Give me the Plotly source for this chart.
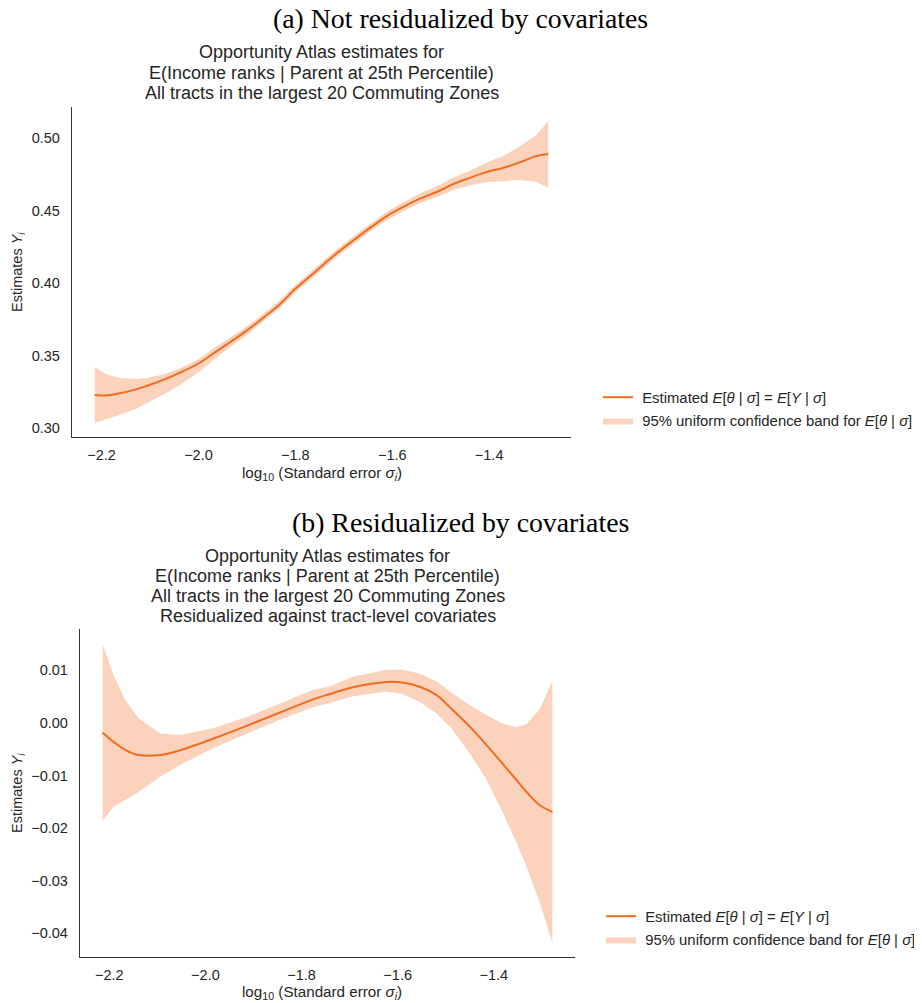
import plotly.graph_objects as go

# ---------------- data ----------------
# Panel (a): not residualized
x_a = [-2.214, -2.19, -2.163, -2.13, -2.107, -2.07, -2.039, -2.0, -1.971, -1.94, -1.901, -1.87,
       -1.833, -1.80, -1.765, -1.72, -1.682, -1.65, -1.612, -1.58, -1.544, -1.50, -1.476, -1.44,
       -1.406, -1.37, -1.338, -1.303, -1.278]
mean_a = [0.3228, 0.3225, 0.324, 0.3265, 0.329, 0.3335, 0.338, 0.3445, 0.351, 0.358, 0.367, 0.375,
          0.385, 0.396, 0.406, 0.419, 0.429, 0.437, 0.446, 0.452, 0.458, 0.464, 0.468, 0.4725,
          0.4765, 0.4795, 0.483, 0.4875, 0.489]
lo_a = [0.3034, 0.306, 0.309, 0.313, 0.317, 0.3235, 0.3295, 0.3385, 0.3465, 0.3545, 0.364, 0.3722,
        0.3825, 0.3935, 0.4035, 0.4165, 0.4265, 0.4345, 0.4433, 0.449, 0.4548, 0.4603, 0.4638, 0.4675,
        0.4695, 0.4705, 0.471, 0.4698, 0.4655]
hi_a = [0.342, 0.337, 0.3345, 0.3338, 0.3345, 0.337, 0.341, 0.3475, 0.3545, 0.3612, 0.3698, 0.3778,
        0.3878, 0.3985, 0.4088, 0.4218, 0.4318, 0.4398, 0.449, 0.4552, 0.4615, 0.468, 0.4725, 0.4775,
        0.483, 0.4878, 0.494, 0.502, 0.5117]

# Panel (b): residualized
x_b = [-2.214, -2.191, -2.167, -2.139, -2.094, -2.053, -1.984, -1.913, -1.845, -1.776, -1.741,
       -1.693, -1.623, -1.590, -1.554, -1.519, -1.486, -1.450, -1.415, -1.382, -1.353, -1.332,
       -1.305, -1.278]
mean_b = [-0.0018, -0.0036, -0.0051, -0.0061, -0.0061, -0.0052, -0.0030, -0.0005, 0.0020, 0.0045,
          0.0055, 0.0068, 0.0078, 0.0077, 0.0069, 0.0053, 0.0025, -0.0007, -0.0042, -0.0077,
          -0.0108, -0.0131, -0.0156, -0.0169]
hi_b = [0.0150, 0.0091, 0.0044, 0.0009, -0.0020, -0.0023, -0.0010, 0.0012, 0.0037, 0.0063,
        0.0070, 0.0088, 0.0101, 0.0101, 0.0094, 0.0079, 0.0056, 0.0034, 0.0015, -0.0001,
        -0.0008, -0.0002, 0.0025, 0.0080]
lo_b = [-0.0186, -0.0159, -0.0147, -0.0131, -0.0102, -0.0080, -0.0048, -0.0020, 0.0006, 0.0030,
        0.0038, 0.0051, 0.0060, 0.0055, 0.0040, 0.0018, -0.0013, -0.0058, -0.0108, -0.0169,
        -0.0227, -0.0273, -0.0340, -0.0418]

x_ticks = [-2.2, -2.0, -1.8, -1.6, -1.4]
x_ticktext = ["\u22122.2", "\u22122.0", "\u22121.8", "\u22121.6", "\u22121.4"]
ya_ticks = [0.30, 0.35, 0.40, 0.45, 0.50]
ya_ticktext = ["0.30", "0.35", "0.40", "0.45", "0.50"]
yb_ticks = [0.01, 0.00, -0.01, -0.02, -0.03, -0.04]
yb_ticktext = ["0.01", "0.00", "\u22120.01", "\u22120.02", "\u22120.03", "\u22120.04"]

caption_a = "(a) Not residualized by covariates"
caption_b = "(b) Residualized by covariates"
title_a = ["Opportunity Atlas estimates for",
           "E(Income ranks | Parent at 25th Percentile)",
           "All tracts in the largest 20 Commuting Zones"]
title_b = title_a + ["Residualized against tract-level covariates"]
GAP = "\u00a0"
line_name = GAP + "Estimated <i>E</i>[<i>\u03b8</i> | <i>\u03c3</i>] = <i>E</i>[<i>Y</i> | <i>\u03c3</i>]"
band_name = GAP + "95% uniform confidence band for <i>E</i>[<i>\u03b8</i> | <i>\u03c3</i>]"
xlabel = "log<sub>10</sub> (Standard error <i>\u03c3<sub>i</sub></i>)"
ylabel = "Estimates <i>Y<sub>i</sub></i>"

# ---------------- style ----------------
# positions below are window pixels; the page body offsets the figure by 8px
OFF = 8
FW, FH = 922, 1003
LINE = "#F36B1F"
BAND = "#FBD3BC"
TXT = "#262626"
SANS = "Liberation Sans, Arial, sans-serif"
SERIF = "Liberation Serif, Times New Roman, serif"


def px(x):
    return (x - OFF) / FW


def py(y):
    return 1 - (y - OFF) / FH


fig = go.Figure()


def add_panel(xs, mean, lo, hi, xa, ya, legend):
    fig.add_trace(go.Scatter(
        x=list(xs) + list(xs)[::-1], y=list(hi) + list(lo)[::-1],
        fill="toself", fillcolor=BAND, line=dict(width=0, color=BAND),
        mode="lines", name=band_name, xaxis=xa, yaxis=ya, legend=legend,
        legendgroup=legend + "band", legendrank=2, hoverinfo="skip"))
    fig.add_trace(go.Scatter(
        x=xs, y=mean, mode="lines", line=dict(color=LINE, width=2, shape="spline"),
        name=line_name, xaxis=xa, yaxis=ya, legend=legend,
        legendgroup=legend + "line", legendrank=1))


add_panel(x_a, mean_a, lo_a, hi_a, "x", "y", "legend")
add_panel(x_b, mean_b, lo_b, hi_b, "x2", "y2", "legend2")

axis_common = dict(showgrid=False, zeroline=False, showline=True, linecolor="#333333",
                   linewidth=1.3, ticks="", automargin=False,
                   tickfont=dict(family=SANS, size=14.5, color=TXT))

fig.update_layout(
    xaxis=dict(domain=[px(72), px(571)], anchor="y", range=[-2.261, -1.231],
               tickvals=x_ticks, ticktext=x_ticktext, ticklabelstandoff=4, **axis_common),
    yaxis=dict(domain=[py(437), py(107)], anchor="x", range=[0.2938, 0.5214],
               tickvals=ya_ticks, ticktext=ya_ticktext, ticklabelstandoff=8, **axis_common),
    xaxis2=dict(domain=[px(80), px(575)], anchor="y2", range=[-2.261, -1.231],
                tickvals=x_ticks, ticktext=x_ticktext, ticklabelstandoff=4, **axis_common),
    yaxis2=dict(domain=[py(957), py(629)], anchor="x2", range=[-0.04449, 0.01787],
                tickvals=yb_ticks, ticktext=yb_ticktext, ticklabelstandoff=8, **axis_common),
)

leg_common = dict(font=dict(family=SANS, size=14.9, color=TXT), bgcolor="rgba(0,0,0,0)",
                  xanchor="left", yanchor="top", traceorder="grouped", tracegroupgap=1,
                  itemwidth=30)
fig.update_layout(
    legend=dict(x=px(598), y=py(381), **leg_common),
    legend2=dict(x=px(601), y=py(900), **leg_common),
)

ann = []


def text(t, x, y, size, family=SANS, color=TXT, angle=0):
    ann.append(dict(text=t, x=px(x), y=py(y), xref="paper", yref="paper", showarrow=False,
                    font=dict(family=family, size=size, color=color), textangle=angle,
                    xanchor="center", yanchor="middle"))


text(caption_a, 460, 18, 27.8, SERIF, "#000000")
text(caption_b, 460, 522, 27.8, SERIF, "#000000")
for i, line in enumerate(title_a):
    text(line, 321.5, 52 + 20.5 * i, 18)
for i, line in enumerate(title_b):
    text(line, 327.5, 556 + 20 * i, 18)
for yc in (272, 793):
    text(ylabel, 18, yc, 14.5, angle=-90)
for xc, yc in ((321.5, 473), (322, 992)):
    text(xlabel, xc, yc, 15.2)

fig.update_layout(
    width=FW, height=FH, margin=dict(l=0, r=0, t=0, b=0),
    paper_bgcolor="white", plot_bgcolor="white", annotations=ann, showlegend=True,
)

fig.write_html("out.html")
